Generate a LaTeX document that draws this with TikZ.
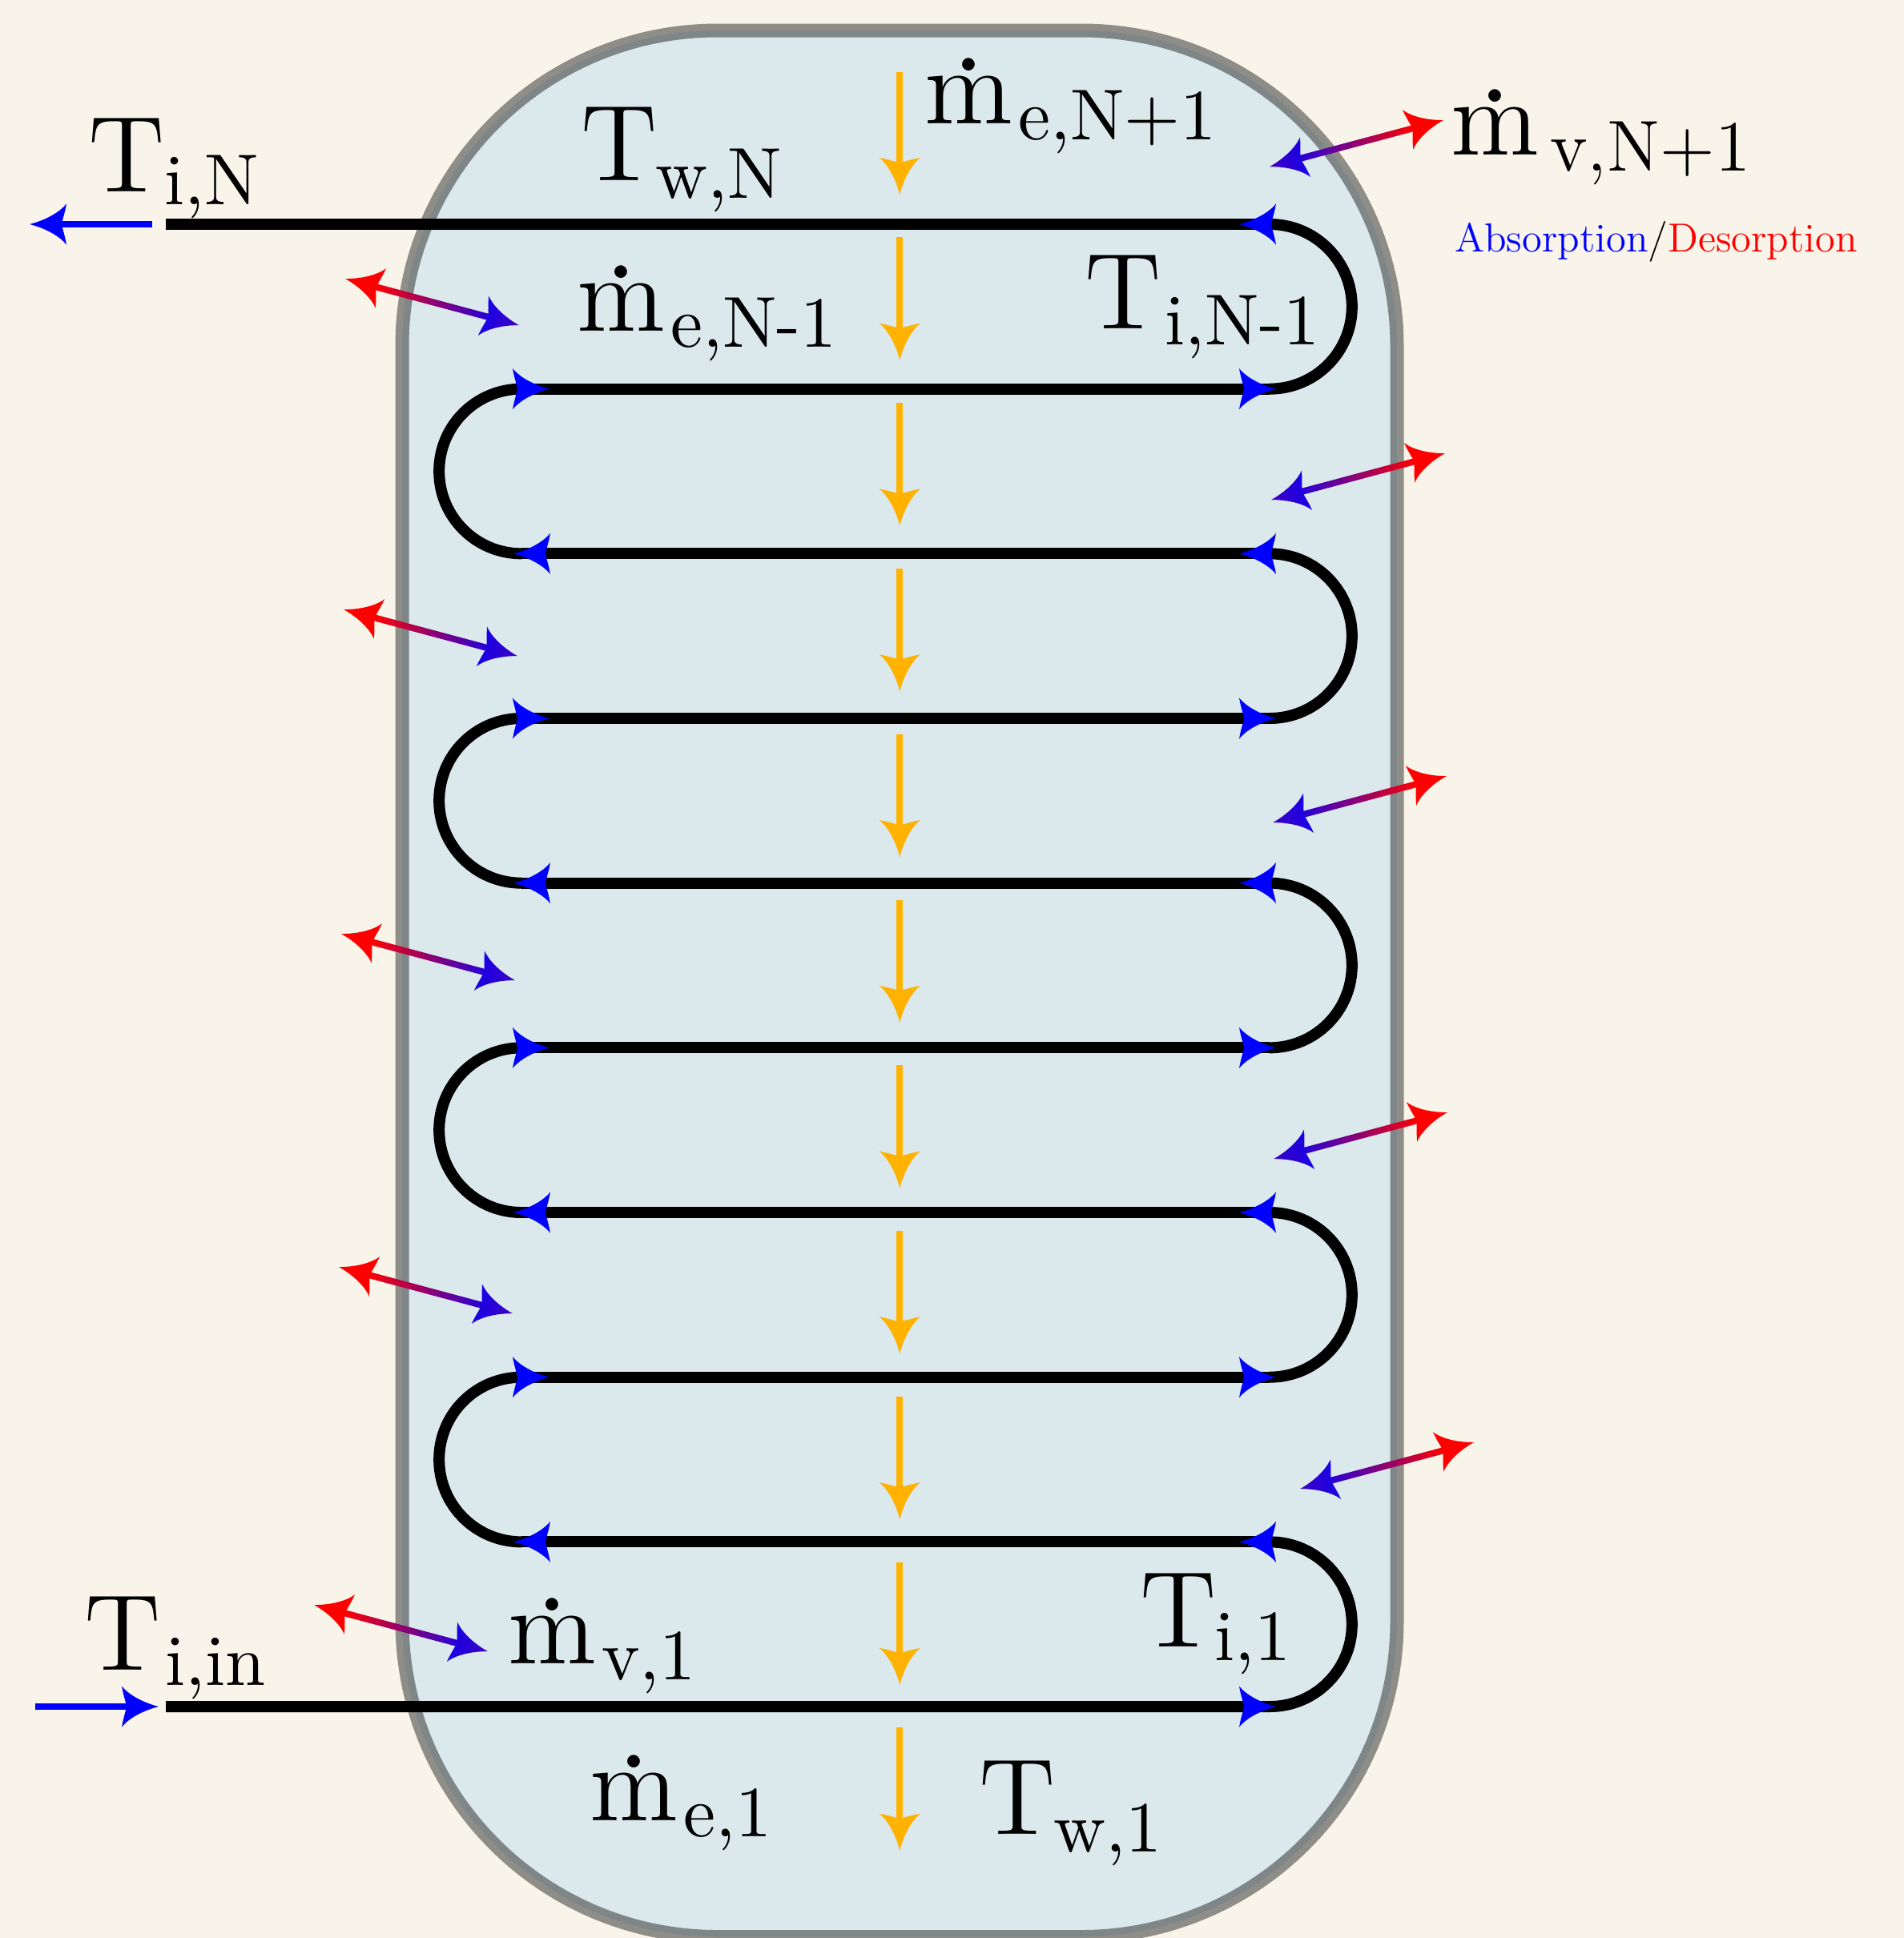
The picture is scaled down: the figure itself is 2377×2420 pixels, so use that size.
\documentclass[tikz,border=0pt]{standalone}
\definecolor{pagebg}{HTML}{F8F4E9}
\definecolor{tankfill}{HTML}{DBE8EC}
\definecolor{flow}{HTML}{FFB300}
\newcommand{\headpath}{(0,0) .. controls (-16,4) and (-36,13) .. (-46,25.6) .. controls (-44,14) and (-41,6) .. (-40,0) .. controls (-41,-6) and (-44,-14) .. (-46,-25.6) .. controls (-36,-13) and (-16,-4) .. cycle}
\newcommand{\twelve}[2]{\scalebox{#1}{\fontsize{12}{12}\selectfont #2}}
\newcommand{\subs}[2]{\raisebox{-#1pt}{\scalebox{9}{\fontsize{10}{10}\selectfont #2}}}
\newcommand{\mdotted}{\twelve{11.25}{\ooalign{m\cr\hidewidth\raisebox{5.8pt}{\scalebox{1.2}{.}}\hidewidth\cr}}}
% #1 kern, #2 subscript drop, #3 subscript
\newcommand{\Tl}[3]{\twelve{11.25}{T}\kern#1pt\subs{#2}{#3}}
\newcommand{\Ml}[2]{\mdotted\kern7pt\subs{#1}{#2}}
\tikzset{
  lab/.style={anchor=base west,inner sep=0pt},
  coil/.style={line width=14pt,black,line cap=butt},
  thin blue/.style={line width=8pt,blue},
  thin orange/.style={line width=8pt,flow},
  pics/hd/.style={code={\fill[#1] \headpath;}},
}
% #1 red tip x, #2 red tip y, #3 canvas angle
\newcommand{\vapour}[3]{%
  \begin{scope}[transform canvas={shift={(#1,#2)},rotate=#3}]
    \shade[left color=blue!88!red,right color=red] (-190,-4) rectangle (-38,4);
    \fill[red] \headpath;
    \shade[left color=blue!76!red!100!black,right color=blue!90!red,xshift=-224.6pt,xscale=-1] \headpath;
  \end{scope}}
\begin{document}
\begin{tikzpicture}[x=1pt,y=-1pt]
\fill[pagebg] (0,0) rectangle (2377,2420);
\useasboundingbox (0,0) rectangle (2377,2420);
\path[fill=tankfill,draw=black,draw opacity=0.42,line width=17pt,rounded corners=394pt] (502,38) rectangle (1744,2418.5);
% orange falling-film arrows
\foreach \i in {0,...,10}{
  \coordinate (oa\i) at (1123.3,89.7+206.77*\i);
  \coordinate (ob\i) at (1123.3,243+206.77*\i);
  \draw[thin orange] (oa\i) -- ++(0,120);
  \pic[rotate=-90] at (ob\i) {hd=flow};
}
% coil
\foreach \i in {0,...,9}{ \coordinate (L\i) at (651,280+205.67*\i); \coordinate (R\i) at (1585,280+205.67*\i);}
\coordinate (startT) at (207,280);
\coordinate (startB) at (207,2131);
\draw[coil] (startT) -- (R0);
\draw[coil] (startB) -- (R9);
\foreach \i in {1,...,8}{\draw[coil] (L\i) -- (R\i);}
\foreach \i in {0,2,4,6,8}{\draw[coil] (R\i) arc[start angle=-90,end angle=90,radius=102.83];}
\foreach \i in {1,3,5,7}{\draw[coil] (L\i) arc[start angle=270,end angle=90,radius=102.83];}
% heads on the coil
\foreach \i in {0,2,4,6,8}{\pic[rotate=180] at ([xshift=-38pt]R\i) {hd=blue};}
\foreach \i in {1,3,5,7,9}{\pic at ([xshift=8pt]R\i) {hd=blue};}
\foreach \i in {1,3,5,7}{\pic at ([xshift=35pt]L\i) {hd=blue};}
\foreach \i in {2,4,6,8}{\pic[rotate=180] at ([xshift=-10pt]L\i) {hd=blue};}
% inlet and outlet
\coordinate (outA) at (190,280);\coordinate (outB) at (77,280);
\draw[thin blue] (outA) -- (outB);
\pic[rotate=180] at (37,280) {hd=blue};
\coordinate (inA) at (44,2131);\coordinate (inB) at (158,2131);
\draw[thin blue] (inA) -- (inB);
\pic at (198,2131) {hd=blue};
% vapour arrows
\vapour{1802}{150}{15}
\vapour{1804}{566}{15}
\vapour{1806}{969}{15}
\vapour{1807}{1389}{15}
\vapour{1840}{1801}{15}
\vapour{431}{348}{165}
\vapour{429}{761}{165}
\vapour{426}{1166}{165}
\vapour{423}{1582}{165}
\vapour{392}{2004}{165}
% labels
\node[lab] (tin) at (105,2085) {\Tl{6}{19}{i,in}};
\node[lab] (tn) at (110,239) {\Tl{0}{16}{i,N}};
\node[lab] (twn) at (725,225) {\Tl{-2}{22}{w,N}};
\node[lab] (men1) at (1154,154) {\Ml{20.7}{e,N+1}};
\node[lab] (mvn1) at (1811,193) {\mdotted\kern14pt\raisebox{-20pt}{\twelve{7.5}{v,N+1}}};
\node[lab] (menm) at (720,413) {\Ml{20.7}{e,N-1}};
\node[lab] (tnm) at (1354,410.7) {\Tl{5}{19.5}{i,N-1}};
\node[lab] (ti1) at (1423,2056) {\Tl{-2}{17}{i,1}};
\node[lab] (mv1) at (634,2077) {\Ml{20}{v,1}};
\node[lab] (me1) at (736,2273) {\Ml{20}{e,1}};
\node[lab] (tw1) at (1222,2290) {\Tl{-2}{22}{w,1}};
\node[lab] (legend) at (1816,314) {\twelve{4.22}{\textcolor{blue}{Absorption}/\textcolor{red}{Desorption}}};
\end{tikzpicture}
\end{document}
